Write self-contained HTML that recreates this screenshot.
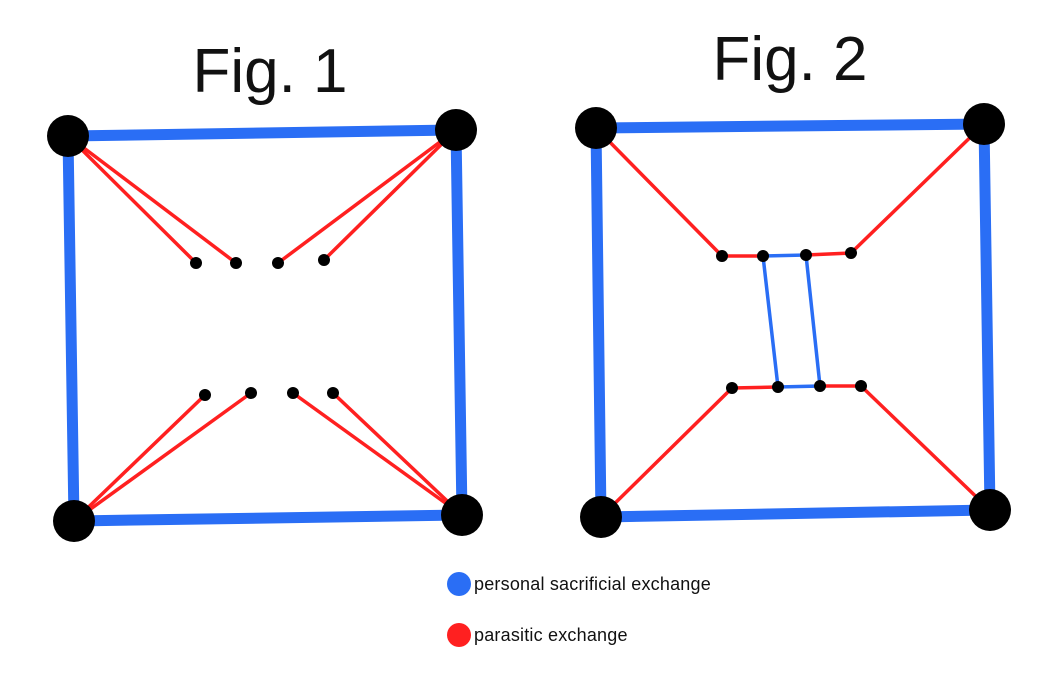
<!DOCTYPE html>
<html><head><meta charset="utf-8"><style>
html,body{margin:0;padding:0;background:#fff;}
svg{display:block}
text{font-family:"Liberation Sans",sans-serif;fill:#111}
</style></head><body>
<svg width="1054" height="675" viewBox="0 0 1054 675" xmlns="http://www.w3.org/2000/svg">
<text x="270" y="92" font-size="62" text-anchor="middle">Fig. 1</text>
<text x="790" y="80" font-size="62" text-anchor="middle">Fig. 2</text>
<g stroke="#2a6ef5" stroke-width="11" fill="none" stroke-linecap="round">
<polygon points="68,136 456,130 462,515 74,521"/>
<polygon points="596,128 984,124 990,510 601,517"/>
</g>
<g stroke="#ff2020" stroke-width="3.5" fill="none">
<line x1="68" y1="136" x2="196" y2="263"/><line x1="68" y1="136" x2="236" y2="263"/>
<line x1="456" y1="130" x2="278" y2="263"/><line x1="456" y1="130" x2="324" y2="260"/>
<line x1="74" y1="521" x2="205" y2="395"/><line x1="74" y1="521" x2="251" y2="393"/>
<line x1="462" y1="515" x2="293" y2="393"/><line x1="462" y1="515" x2="333" y2="393"/>
<polyline points="596,128 722,256 763,256"/>
<polyline points="806,255 851,253 984,124"/>
<polyline points="601,517 732,388 778,387"/>
<polyline points="820,386 861,386 990,510"/>
</g>
<g stroke="#2a6ef5" stroke-width="3.5" fill="none">
<polygon points="763,256 806,255 820,386 778,387"/>
</g>
<g fill="#000">
<circle cx="68" cy="136" r="21"/><circle cx="456" cy="130" r="21"/>
<circle cx="74" cy="521" r="21"/><circle cx="462" cy="515" r="21"/>
<circle cx="596" cy="128" r="21"/><circle cx="984" cy="124" r="21"/>
<circle cx="601" cy="517" r="21"/><circle cx="990" cy="510" r="21"/>
<circle cx="196" cy="263" r="6"/><circle cx="236" cy="263" r="6"/>
<circle cx="278" cy="263" r="6"/><circle cx="324" cy="260" r="6"/>
<circle cx="205" cy="395" r="6"/><circle cx="251" cy="393" r="6"/>
<circle cx="293" cy="393" r="6"/><circle cx="333" cy="393" r="6"/>
<circle cx="722" cy="256" r="6"/><circle cx="763" cy="256" r="6"/>
<circle cx="806" cy="255" r="6"/><circle cx="851" cy="253" r="6"/>
<circle cx="732" cy="388" r="6"/><circle cx="778" cy="387" r="6"/>
<circle cx="820" cy="386" r="6"/><circle cx="861" cy="386" r="6"/>
</g>
<circle cx="459" cy="584" r="12" fill="#2a6ef5"/>
<circle cx="459" cy="635" r="12" fill="#ff2020"/>
<text x="474" y="590" font-size="18" letter-spacing="0.2">personal sacrificial exchange</text>
<text x="474" y="641" font-size="18" letter-spacing="0.2">parasitic exchange</text>
</svg>
</body></html>
